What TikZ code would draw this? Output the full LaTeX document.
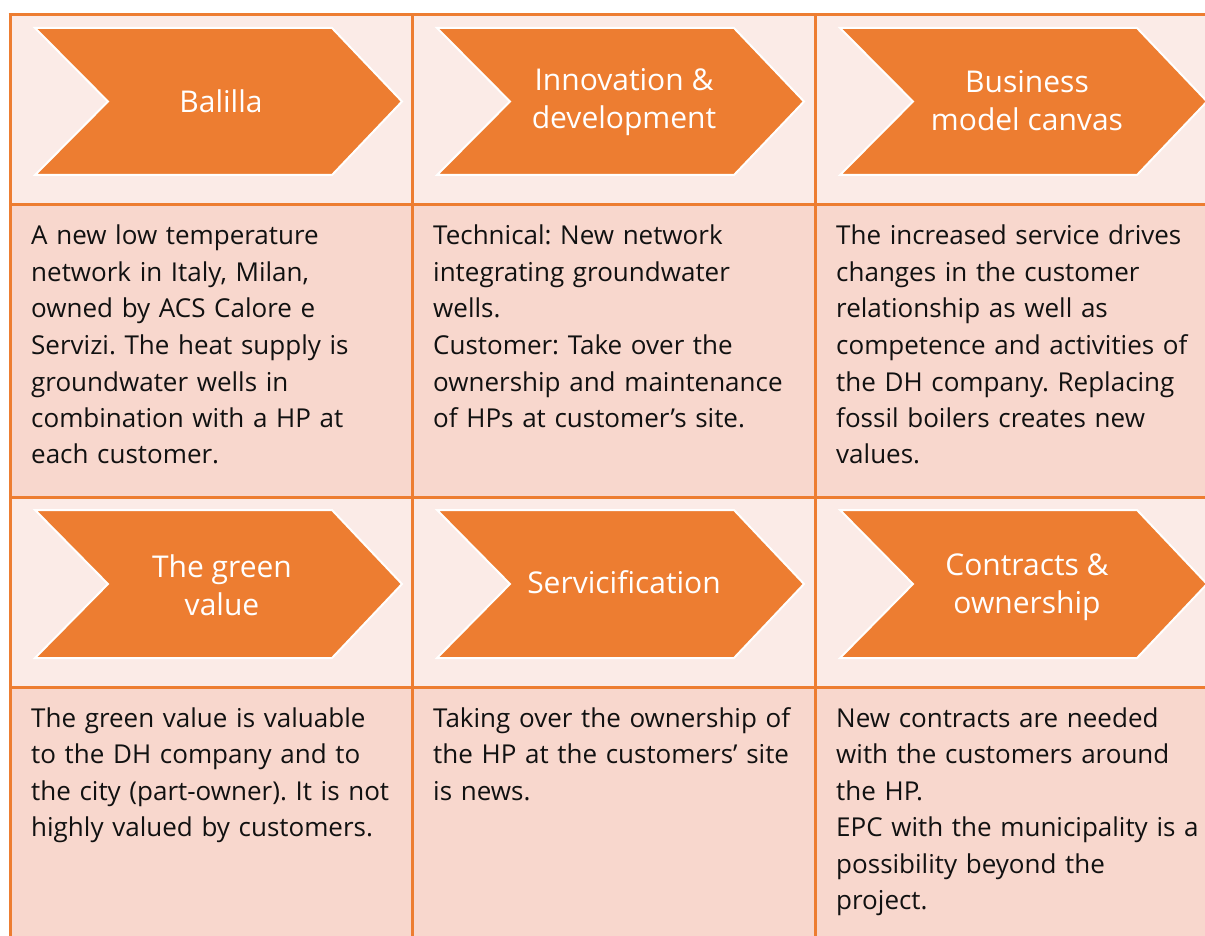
\documentclass[tikz,border=0pt]{standalone}
\usepackage{fontspec}
\setmainfont{Open Sans}
\definecolor{acc}{HTML}{ED7D31}
\definecolor{headbg}{HTML}{FBEBE7}
\definecolor{bodybg}{HTML}{F8D7CD}
\definecolor{txt}{HTML}{111111}
\tikzset{
  gridline/.style={draw=acc, line width=3pt},
  chev/.style={fill=acc, draw=white, line width=2pt, line join=miter},
  chevtext/.style={text=white, align=center, inner sep=0pt, font=\fontsize{30}{38}\selectfont},
  bodytext/.style={text=txt, anchor=base west, inner sep=0pt, text width=380pt, align=left, font=\fontsize{26}{36.5}\selectfont\frenchspacing},
}
\newcommand{\chevron}[3]{% L, T, B
  \pgfmathsetmacro{\cM}{(#2+#3)/2}
  \fill[chev] (#1,#2) -- ({#1+297},#2) -- ({#1+367},\cM) -- ({#1+297},#3) -- (#1,#3) -- ({#1+73},\cM) -- cycle;
}
\begin{document}
\begin{tikzpicture}[x=1pt,y=-1pt]
\useasboundingbox (0,0) rectangle (1205,936);
\fill[white] (0,0) rectangle (1205,936);
% cell fills
\fill[headbg] (10,15) rectangle (1210,205);
\fill[bodybg] (10,205) rectangle (1210,497);
\fill[headbg] (10,497) rectangle (1210,687);
\fill[bodybg] (10,687) rectangle (1210,940);
% grid
\draw[gridline] (8.5,15) -- (1210,15);
\draw[gridline] (10,205) -- (1210,205);
\draw[gridline] (10,497) -- (1210,497);
\draw[gridline] (10,687) -- (1210,687);
\draw[gridline] (10,15) -- (10,940);
\draw[gridline] (412,15) -- (412,940);
\draw[gridline] (815,15) -- (815,940);
% chevrons row 1
\chevron{35}{28}{175}
\chevron{437}{28}{175}
\chevron{840}{28}{175}
\node[chevtext] (h1) at (221,101) {Balilla};
\node[chevtext] (h2) at (624,102) {Innovation \&\\development};
\node[chevtext] (h3) at (1027,101) {Business\\model canvas};
% chevrons row 3
\chevron{35}{510}{658}
\chevron{437}{510}{658}
\chevron{840}{510}{658}
\node[chevtext] (h4) at (222,585) {The green\\value};
\node[chevtext] (h5) at (624,582) {Servicification};
\node[chevtext] (h6) at (1027,587) {Contracts \&\\ownership};
% body texts row 2
\node[bodytext] (b1) at (31,245) {A new low temperature\\network in Italy, Milan,\\owned by ACS Calore e\\Servizi. The heat supply is\\groundwater wells in\\combination with a HP at\\each customer.};
\node[bodytext] (b2) at (433,245) {Technical: New network\\integrating groundwater\\wells.\\Customer: Take over the\\ownership and maintenance\\of HPs at customer’s site.};
\node[bodytext] (b3) at (836,245) {The increased service drives\\changes in the customer\\relationship as well as\\competence and activities of\\the DH company. Replacing\\fossil boilers creates new\\values.};
% body texts row 4
\node[bodytext] (b4) at (31,727) {The green value is valuable\\to the DH company and to\\the city (part-owner). It is not\\highly valued by customers.};
\node[bodytext] (b5) at (433,727) {Taking over the ownership of\\the HP at the customers’ site\\is news.};
\node[bodytext] (b6) at (836,727) {New contracts are needed\\with the customers around\\the HP.\\EPC with the municipality is a\\possibility beyond the\\project.};
\end{tikzpicture}
\end{document}
